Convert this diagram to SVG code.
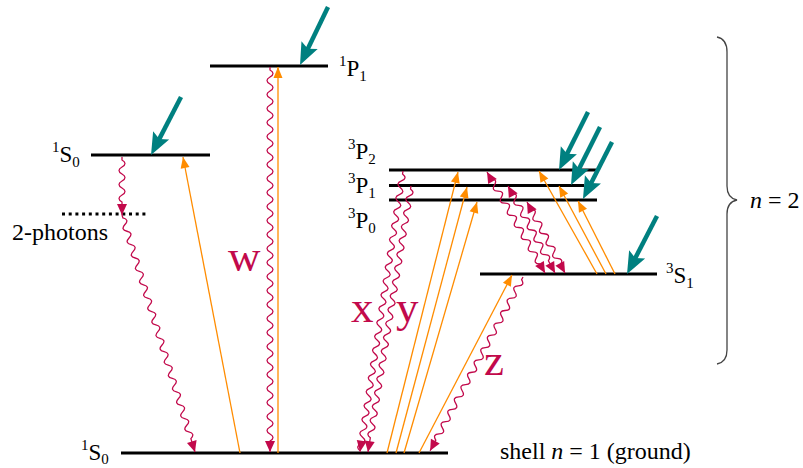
<svg xmlns="http://www.w3.org/2000/svg" width="803" height="468" viewBox="0 0 803 468">
<style>
.lvl{stroke:#000;stroke-width:3;fill:none}
.teal{stroke:#008080;stroke-width:4.5;fill:none;marker-end:url(#mt)}
.or{stroke:#ff8c00;stroke-width:1.3;fill:none;marker-end:url(#mo)}
.wv{stroke:#c2094b;stroke-width:1.3;fill:none;marker-end:url(#mw)}
.wv2{stroke:#c2094b;stroke-width:1.3;fill:none;marker-end:url(#mw);marker-start:url(#mws)}
</style>
<defs>
<marker id="mt" markerUnits="userSpaceOnUse" markerWidth="24" markerHeight="20" refX="14" refY="9" orient="auto" overflow="visible"><path d="M0,0 L22,9 L0,18 L4,9 z" fill="#008080"/></marker>
<marker id="mo" markerUnits="userSpaceOnUse" markerWidth="12" markerHeight="10" refX="11" refY="4.5" orient="auto" overflow="visible"><path d="M0,0 L11,4.5 L0,9 z" fill="#ff8c00"/></marker>
<marker id="mw" markerUnits="userSpaceOnUse" markerWidth="12" markerHeight="11" refX="11" refY="5" orient="auto" overflow="visible"><path d="M0,0 L11,5 L0,10 z" fill="#c2094b"/></marker>
<marker id="mws" markerUnits="userSpaceOnUse" markerWidth="12" markerHeight="11" refX="11" refY="5" orient="auto-start-reverse" overflow="visible"><path d="M0,0 L11,5 L0,10 z" fill="#c2094b"/></marker>
</defs>

<g font-family="'Liberation Serif', 'DejaVu Serif', serif" fill="#000">
<g id="level-1P1">
<line class="lvl" x1="210" y1="66" x2="328" y2="66"/>
<text x="339" y="76" font-size="23"><tspan font-size="15" dy="-10">1</tspan><tspan dy="10">P</tspan><tspan font-size="15" dy="5">1</tspan></text>
</g>
<g id="level-1S0-excited">
<line class="lvl" x1="91" y1="155" x2="210" y2="155"/>
<text x="52" y="162" font-size="23"><tspan font-size="15" dy="-10">1</tspan><tspan dy="10">S</tspan><tspan font-size="15" dy="5">0</tspan></text>
</g>
<g id="virtual-level">
<line x1="62" y1="214" x2="148" y2="214" stroke="#000" stroke-width="3" stroke-dasharray="3 3.7"/>
<text x="12" y="240" font-size="24">2-photons</text>
</g>
<g id="level-3P2">
<line class="lvl" x1="389" y1="170" x2="596" y2="170"/>
<text x="348" y="159" font-size="23"><tspan font-size="15" dy="-10">3</tspan><tspan dy="10">P</tspan><tspan font-size="15" dy="5">2</tspan></text>
</g>
<g id="level-3P1">
<line class="lvl" x1="389" y1="185.5" x2="584" y2="185.5"/>
<text x="348" y="193" font-size="23"><tspan font-size="15" dy="-10">3</tspan><tspan dy="10">P</tspan><tspan font-size="15" dy="5">1</tspan></text>
</g>
<g id="level-3P0">
<line class="lvl" x1="389" y1="200" x2="597" y2="200"/>
<text x="348" y="228" font-size="23"><tspan font-size="15" dy="-10">3</tspan><tspan dy="10">P</tspan><tspan font-size="15" dy="5">0</tspan></text>
</g>
<g id="level-3S1">
<line class="lvl" x1="480" y1="274" x2="657" y2="274"/>
<text x="666" y="283" font-size="23"><tspan font-size="15" dy="-10">3</tspan><tspan dy="10">S</tspan><tspan font-size="15" dy="5">1</tspan></text>
</g>
<g id="level-ground">
<line class="lvl" x1="121" y1="453" x2="448" y2="453"/>
<text x="81" y="460" font-size="23"><tspan font-size="15" dy="-10">1</tspan><tspan dy="10">S</tspan><tspan font-size="15" dy="4">0</tspan></text>
<text x="500" y="459" font-size="24">shell <tspan font-style="italic">n</tspan> = 1 (ground)</text>
</g>
<g id="brace-n2">
<path d="M717,37 Q727,39 727,52 L727,186 Q727,198 737,200 Q727,202 727,214 L727,350 Q727,362 717,364" stroke="#444" stroke-width="1.3" fill="none"/>
<text x="750" y="208" font-size="24"><tspan font-style="italic">n</tspan> = 2</text>
</g>
</g>

<g id="connectors">
<g id="excitation-teal">
<line class="teal" x1="328" y1="7" x2="303.5" y2="57.8"/>
<line class="teal" x1="181" y1="97" x2="154.7" y2="147.9"/>
<line class="teal" x1="588" y1="112" x2="562.6" y2="162.8"/>
<line class="teal" x1="600" y1="127" x2="574.6" y2="177.8"/>
<line class="teal" x1="612" y1="142" x2="586.6" y2="191.9"/>
<line class="teal" x1="657" y1="216" x2="630.7" y2="266.9"/>
</g>
<g id="absorption-orange">
<line class="or" x1="278" y1="453" x2="278" y2="67"/>
<line class="or" x1="240" y1="453" x2="183" y2="157"/>
<line class="or" x1="387" y1="453" x2="458" y2="172"/>
<line class="or" x1="396" y1="453" x2="467" y2="187"/>
<line class="or" x1="404" y1="453" x2="477" y2="202"/>
<line class="or" x1="419" y1="453" x2="512" y2="275"/>
<line class="or" x1="597" y1="274" x2="539" y2="171"/>
<line class="or" x1="606" y1="274" x2="559" y2="186"/>
<line class="or" x1="615" y1="274" x2="578" y2="201"/>
</g>
<g id="emission-wavy">
<path class="wv" transform="translate(122,157) rotate(90)" d="M0,0 l3,0 q3.5,-6 7,0 t7,0 7,0 7,0 7,0 7,0 L58,0"/>
<path class="wv" transform="translate(122,215) rotate(72.88)" d="M0,0 l3,0 q3.5,-6 7,0 t7,0 7,0 7,0 7,0 7,0 7,0 7,0 7,0 7,0 7,0 7,0 7,0 7,0 7,0 7,0 7,0 7,0 7,0 7,0 7,0 7,0 7,0 7,0 7,0 7,0 7,0 7,0 7,0 7,0 7,0 7,0 7,0 L248,0"/>
<path class="wv" transform="translate(270,67) rotate(90)" d="M0,0 l3,0 q3.5,-6 7,0 t7,0 7,0 7,0 7,0 7,0 7,0 7,0 7,0 7,0 7,0 7,0 7,0 7,0 7,0 7,0 7,0 7,0 7,0 7,0 7,0 7,0 7,0 7,0 7,0 7,0 7,0 7,0 7,0 7,0 7,0 7,0 7,0 7,0 7,0 7,0 7,0 7,0 7,0 7,0 7,0 7,0 7,0 7,0 7,0 7,0 7,0 7,0 7,0 7,0 7,0 7,0 7,0 L385,0"/>
<path class="wv" transform="translate(403,171) rotate(98.7)" d="M0,0 l3,0 q3.5,-6 7,0 t7,0 7,0 7,0 7,0 7,0 7,0 7,0 7,0 7,0 7,0 7,0 7,0 7,0 7,0 7,0 7,0 7,0 7,0 7,0 7,0 7,0 7,0 7,0 7,0 7,0 7,0 7,0 7,0 7,0 7,0 7,0 7,0 7,0 7,0 7,0 7,0 7,0 7,0 7,0 L284,0"/>
<path class="wv" transform="translate(411,186) rotate(99.18)" d="M0,0 l3,0 q3.5,-6 7,0 t7,0 7,0 7,0 7,0 7,0 7,0 7,0 7,0 7,0 7,0 7,0 7,0 7,0 7,0 7,0 7,0 7,0 7,0 7,0 7,0 7,0 7,0 7,0 7,0 7,0 7,0 7,0 7,0 7,0 7,0 7,0 7,0 7,0 7,0 7,0 L269.5,0"/>
<path class="wv" transform="translate(523,277) rotate(118.13)" d="M0,0 l3,0 q3.5,-6 7,0 t7,0 7,0 7,0 7,0 7,0 7,0 7,0 7,0 7,0 7,0 7,0 7,0 7,0 7,0 7,0 7,0 7,0 7,0 7,0 7,0 7,0 7,0 7,0 7,0 7,0 L197,0"/>
<path class="wv2" transform="translate(487,172) rotate(60.13)" d="M0,0 l8,0 q3.5,-6 7,0 t7,0 7,0 7,0 7,0 7,0 7,0 7,0 7,0 7,0 7,0 7,0 7,0 7,0 L116.5,0"/>
<path class="wv2" transform="translate(508,186) rotate(61.62)" d="M0,0 l8,0 q3.5,-6 7,0 t7,0 7,0 7,0 7,0 7,0 7,0 7,0 7,0 7,0 7,0 L98.9,0"/>
<path class="wv2" transform="translate(527,202) rotate(61.84)" d="M0,0 l8,0 q3.5,-6 7,0 t7,0 7,0 7,0 7,0 7,0 7,0 7,0 7,0 L80.5,0"/>
</g>
</g>

<g id="transition-labels" font-family="'Liberation Serif', 'DejaVu Serif', serif" font-size="45" fill="#c2094b">
<text x="228" y="271">w</text>
<text x="351" y="322">x</text>
<text x="396" y="322">y</text>
<text x="484" y="375">z</text>
</g>
</svg>
